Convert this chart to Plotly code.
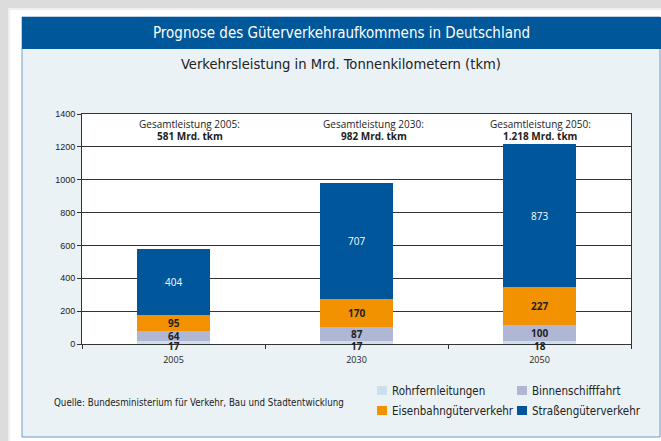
import plotly.graph_objects as go

# ---------------- data ----------------
years = ["2005", "2030", "2050"]
series_names = ["Rohrfernleitungen", "Binnenschifffahrt", "Eisenbahngüterverkehr", "Straßengüterverkehr"]
rohr = [17, 17, 18]
binnen = [64, 87, 100]
eisenbahn = [95, 170, 227]
strasse = [404, 707, 873]
totals = [581, 982, 1218]
y_ticks = [0, 200, 400, 600, 800, 1000, 1200, 1400]

title = "Prognose des Güterverkehraufkommens in Deutschland"
subtitle = "Verkehrsleistung in Mrd. Tonnenkilometern (tkm)"
source = "Quelle: Bundesministerium für Verkehr, Bau und Stadtentwicklung"

# ---------------- style ----------------
colors = ["#CBE0EB", "#AFB7D4", "#F39200", "#00569A"]
label_colors = ["#222222", "#222222", "#222222", "#FFFFFF"]
label_bold = [True, True, True, False]
NARROW = "Liberation Sans Narrow, DejaVu Sans Condensed, Arial Narrow, sans-serif"
SANS = "Open Sans, Noto Sans, sans-serif"
TICKF = "Liberation Sans, Arial, sans-serif"
PANEL = "#EAF2F6"

W, H = 661, 441
L, R, T, B = 82, 631, 114, 344  # plot area in px


def px(x):
    return (x - L) / (R - L)


def py(y):
    return (B - y) / (B - T)


series = [rohr, binnen, eisenbahn, strasse]

fig = go.Figure()
for name, vals, col in zip(series_names, series, colors):
    fig.add_trace(go.Bar(x=years, y=vals, name=name, marker=dict(color=col, line=dict(width=0)),
                         width=0.40, showlegend=False, hoverinfo="x+y+name"))

annotations = []
# segment labels (x given as category index)
for i, yr in enumerate(years):
    base = 0
    for s, vals in enumerate(series):
        v = vals[i]
        txt = f"<b>{v}</b>" if label_bold[s] else str(v)
        ypos = 0 if s == 0 else base + v / 2
        annotations.append(dict(x=i, y=ypos, xref="x", yref="y", text=txt, showarrow=False,
                                yanchor="middle", yshift=-2 if s == 0 else 0,
                                font=dict(family=SANS, size=10, color=label_colors[s])))
        base += v

# total labels
tot_shift = [16, 17, 1]
for i, yr in enumerate(years):
    tot_txt = f"{totals[i]:,}".replace(",", ".") + " Mrd. tkm"
    annotations.append(dict(x=i, y=py(124.5), xref="x", yref="paper", text=f"Gesamtleistung {yr}:",
                            showarrow=False, yanchor="middle", xshift=tot_shift[i],
                            font=dict(family=SANS, size=10, color="#222222")))
    annotations.append(dict(x=i, y=py(136), xref="x", yref="paper", text=f"<b>{tot_txt}</b>",
                            showarrow=False, yanchor="middle", xshift=tot_shift[i],
                            font=dict(family=SANS, size=10, color="#222222")))

# header title and subtitle
annotations.append(dict(x=px(341), y=py(33), xref="paper", yref="paper", text=title, showarrow=False,
                        yanchor="middle", xanchor="center",
                        font=dict(family=NARROW, size=15, color="#FFFFFF")))
annotations.append(dict(x=px(341), y=py(64), xref="paper", yref="paper", text=subtitle, showarrow=False,
                        yanchor="middle", xanchor="center",
                        font=dict(family=NARROW, size=14.6, color="#222222")))
# source
annotations.append(dict(x=px(52), y=py(402), xref="paper", yref="paper", text=source, showarrow=False,
                        yanchor="middle", xanchor="left",
                        font=dict(family=NARROW, size=9.7, color="#222222")))

shapes = [
    # white frame outside the panel
    dict(type="rect", xref="paper", yref="paper", x0=px(0), x1=px(661), y0=py(0), y1=py(17),
         fillcolor="#FFFFFF", line=dict(width=0), layer="below"),
    dict(type="rect", xref="paper", yref="paper", x0=px(0), x1=px(22), y0=py(0), y1=py(441),
         fillcolor="#FFFFFF", line=dict(width=0), layer="below"),
    dict(type="rect", xref="paper", yref="paper", x0=px(0), x1=px(661), y0=py(437), y1=py(441),
         fillcolor="#FFFFFF", line=dict(width=0), layer="below"),
    # outer shadow
    dict(type="rect", xref="paper", yref="paper", x0=px(0), x1=px(661), y0=py(0), y1=py(8),
         fillcolor="#DCDCDC", line=dict(width=0), layer="below"),
    dict(type="rect", xref="paper", yref="paper", x0=px(0), x1=px(8), y0=py(0), y1=py(441),
         fillcolor="#DCDCDC", line=dict(width=0), layer="below"),
    dict(type="rect", xref="paper", yref="paper", x0=px(8), x1=px(661), y0=py(8), y1=py(10),
         fillcolor="#EFEFEF", line=dict(width=0), layer="below"),
    dict(type="rect", xref="paper", yref="paper", x0=px(8), x1=px(10), y0=py(8), y1=py(441),
         fillcolor="#EFEFEF", line=dict(width=0), layer="below"),
    # panel border
    dict(type="rect", xref="paper", yref="paper", x0=px(22), x1=px(660), y0=py(17), y1=py(437),
         fillcolor="rgba(0,0,0,0)", line=dict(color="#6F9CC8", width=1), layer="below"),
    # header
    dict(type="rect", xref="paper", yref="paper", x0=px(22), x1=px(661), y0=py(17), y1=py(49),
         fillcolor="#00579A", line=dict(width=0), layer="below"),
]

# legend (2 x 2 grid)
leg_pos = [(377, 390.5), (517, 390.5), (377, 410.5), (517, 410.5)]
for (lx, ly), name, col in zip(leg_pos, series_names, colors):
    shapes.append(dict(type="rect", xref="paper", yref="paper", x0=px(lx), x1=px(lx + 10),
                       y0=py(ly - 4.5), y1=py(ly + 4.5), fillcolor=col, line=dict(width=0)))
    annotations.append(dict(x=px(lx + 13), y=py(ly), xref="paper", yref="paper", text=name,
                            showarrow=False, xanchor="left", yanchor="middle",
                            font=dict(family=NARROW, size=11.5, color="#222222")))

fig.update_layout(
    width=W, height=H,
    margin=dict(l=L, r=W - R, t=T, b=H - B, pad=0),
    paper_bgcolor=PANEL,
    plot_bgcolor="#FFFFFF",
    barmode="stack",
    showlegend=False,
    annotations=annotations,
    shapes=shapes,
    xaxis=dict(type="category", range=[-0.5, 2.5], showline=True, linecolor="#333333", linewidth=1,
               mirror=True, ticks="outside", tickson="boundaries", ticklen=4, tickcolor="#333333",
               showgrid=False, tickfont=dict(family=SANS, size=9, color="#222222"),
               ticklabelstandoff=7, fixedrange=True),
    yaxis=dict(range=[0, 1400], tickvals=y_ticks, showline=True, linecolor="#333333", linewidth=1,
               mirror=True, ticks="outside", ticklen=4, tickcolor="#333333",
               showgrid=True, gridcolor="#333333", gridwidth=1, zeroline=False,
               tickfont=dict(family=TICKF, size=9, color="#222222"), fixedrange=True),
)

fig.write_html("out.html", config={"displayModeBar": False},
               post_script="document.body.style.margin='0';document.body.style.padding='0';")
